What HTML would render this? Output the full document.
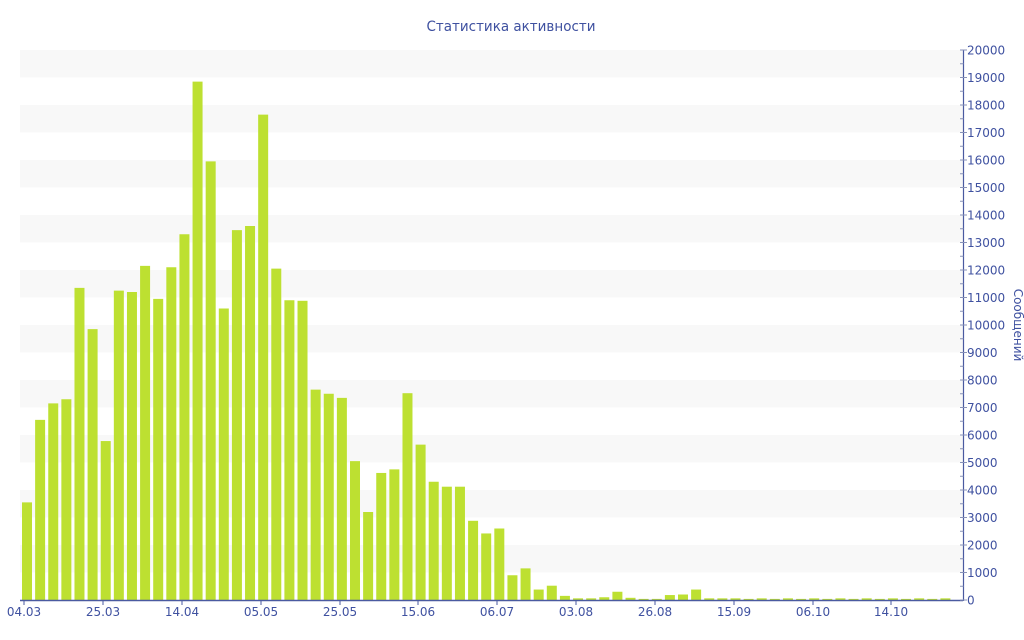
<!DOCTYPE html>
<html><head><meta charset="utf-8"><style>
html,body{margin:0;padding:0;background:#fff;width:1024px;height:640px;overflow:hidden}
svg text{font-family:"DejaVu Sans","Liberation Sans",sans-serif;fill:#3f51a0}
</style></head><body>
<svg id="c" width="1024" height="640" xmlns="http://www.w3.org/2000/svg">
<text x="511" y="31" font-size="14" text-anchor="middle" textLength="169" lengthAdjust="spacingAndGlyphs">Статистика активности</text>
<text transform="translate(1014,325) rotate(90)" font-size="12" text-anchor="middle">Сообщений</text>
</svg>
<script>
var s=document.getElementById('c'),ns='http://www.w3.org/2000/svg';
function el(t,a,txt){var e=document.createElementNS(ns,t);for(var k in a)e.setAttribute(k,a[k]);if(txt)e.textContent=txt;s.appendChild(e);return e;}
function Y(v){return 600-v*0.0275;}
for(var i=0;i<20;i+=2){el('rect',{x:20,y:Y(20000-i*1000),width:943,height:27.5,fill:'#f8f8f8'});}
var vals=[3550,6550,7150,7300,11350,9850,5780,11250,11200,12150,10950,12100,13300,18850,15950,10600,13450,13600,17650,12050,10900,10880,7650,7500,7350,5050,3200,4620,4750,7520,5650,4300,4120,4120,2880,2420,2600,900,1150,380,520,150,60,60,100,300,80,40,40,180,200,380,60,60,60];
while(vals.length<71)vals.push(vals.length%2?40:60);
for(var i=0;i<vals.length;i++){var h=vals[i]*0.0275;el('rect',{x:22+i*13.12,y:600-h,width:10,height:h,fill:'#bde031'});}
el('line',{x1:20,y1:600.5,x2:963,y2:600.5,stroke:'#4a5aa0','stroke-width':1.5});
el('line',{x1:963.5,y1:50,x2:963.5,y2:601,stroke:'#4a5aa0','stroke-width':1.2});
for(var v=0;v<=20000;v+=500){var y=Y(v);var major=v%1000==0;el('line',{x1:960,y1:y,x2:major?967:963.5,y2:y,stroke:'#8892b8'});if(major)el('text',{x:967,y:y+4.5,'font-size':12},String(v));}
var L=[['04.03',24],['25.03',103],['14.04',182],['05.05',261],['25.05',340],['15.06',418],['06.07',497],['03.08',576],['26.08',655],['15.09',734],['06.10',813],['14.10',891]];
L.forEach(function(l){el('line',{x1:l[1],y1:600,x2:l[1],y2:605,stroke:'#4a5aa0'});el('text',{x:l[1],y:616,'font-size':12,'text-anchor':'middle'},l[0]);});
</script>
</body></html>
